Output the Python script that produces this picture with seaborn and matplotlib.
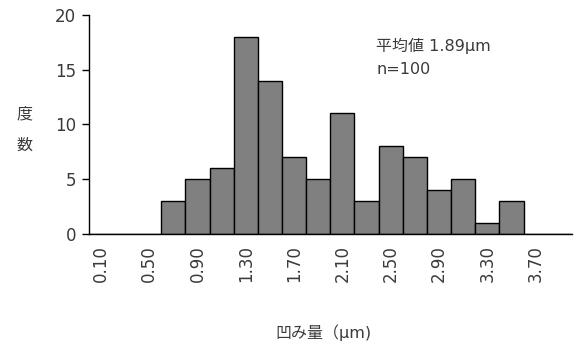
'''Histogram of dent depth (凹み量)'''
import matplotlib
matplotlib.use('Agg')
import matplotlib.pyplot as plt
import matplotlib.ticker as ticker
import pandas
import seaborn as sns

#region data
bin_labels = ['0.10', '0.30', '0.50', '0.70', '0.90', '1.10', '1.30', '1.50', '1.70', '1.90',
              '2.10', '2.30', '2.50', '2.70', '2.90', '3.10', '3.30', '3.50', '3.70', '3.90']
counts = [0, 0, 0, 3, 5, 6, 18, 14, 7, 5, 11, 3, 8, 7, 4, 5, 1, 3, 0, 0]
y_ticks = [0, 5, 10, 15, 20]
#endregion

sns.set_style('white')
plt.rcParams['font.family'] = ['DejaVu Sans', 'Noto Sans CJK JP']
txt_col = '#3a3a3a'
fs = 11.5

df = pandas.DataFrame({'bin': bin_labels, 'count': counts})

fig = plt.figure(figsize=(5.77, 3.47), dpi=100)
ax = fig.add_axes([0.154, 0.326, 0.837, 0.631])

sns.barplot(x='bin', y='count', data=df, ax=ax, width=1.0, color='#808080',
            edgecolor='black', linewidth=1.0, saturation=1)

#region Axis
ax.set_xlim(-0.5, len(bin_labels) - 0.5)
ax.set_ylim(0, 20)
ax.set_yticks(y_ticks)
ax.set_yticklabels([str(v) for v in y_ticks], fontsize=fs + 0.5, color=txt_col)

pos = list(range(len(bin_labels)))
ax.set_xticks(pos[::2])
ax.set_xticklabels(bin_labels[::2], rotation=90, fontsize=fs + 0.5, color=txt_col)
ax.xaxis.set_minor_locator(ticker.FixedLocator([p + 0.5 for p in pos]))
ax.tick_params(axis='x', which='major', length=0, pad=8)
ax.tick_params(axis='x', which='minor', direction='in', length=6, width=1, color='black')
ax.tick_params(axis='y', which='major', direction='out', length=5, width=1, color='black', pad=4, left=True)

for s in ['left', 'bottom']:
    ax.spines[s].set_color('black')
    ax.spines[s].set_linewidth(1)
sns.despine(ax=ax, top=True, right=True)

ax.set_xlabel('')
ax.set_ylabel('')
fig.text(0.042, 0.672, '度', fontsize=fs, ha='center', va='center', color=txt_col)
fig.text(0.042, 0.582, '数', fontsize=fs, ha='center', va='center', color=txt_col)
fig.text(0.56, 0.04, '凹み量（μm)', fontsize=fs, ha='center', va='center', color=txt_col)
#endregion

#region annotation
ax.text(0.595, 0.86, '平均値 1.89μm', transform=ax.transAxes, fontsize=fs,
        ha='left', va='center', color=txt_col)
ax.text(0.595, 0.75, 'n=100', transform=ax.transAxes, fontsize=fs,
        ha='left', va='center', color=txt_col)
#endregion

fig.savefig('out.png', dpi=100)
